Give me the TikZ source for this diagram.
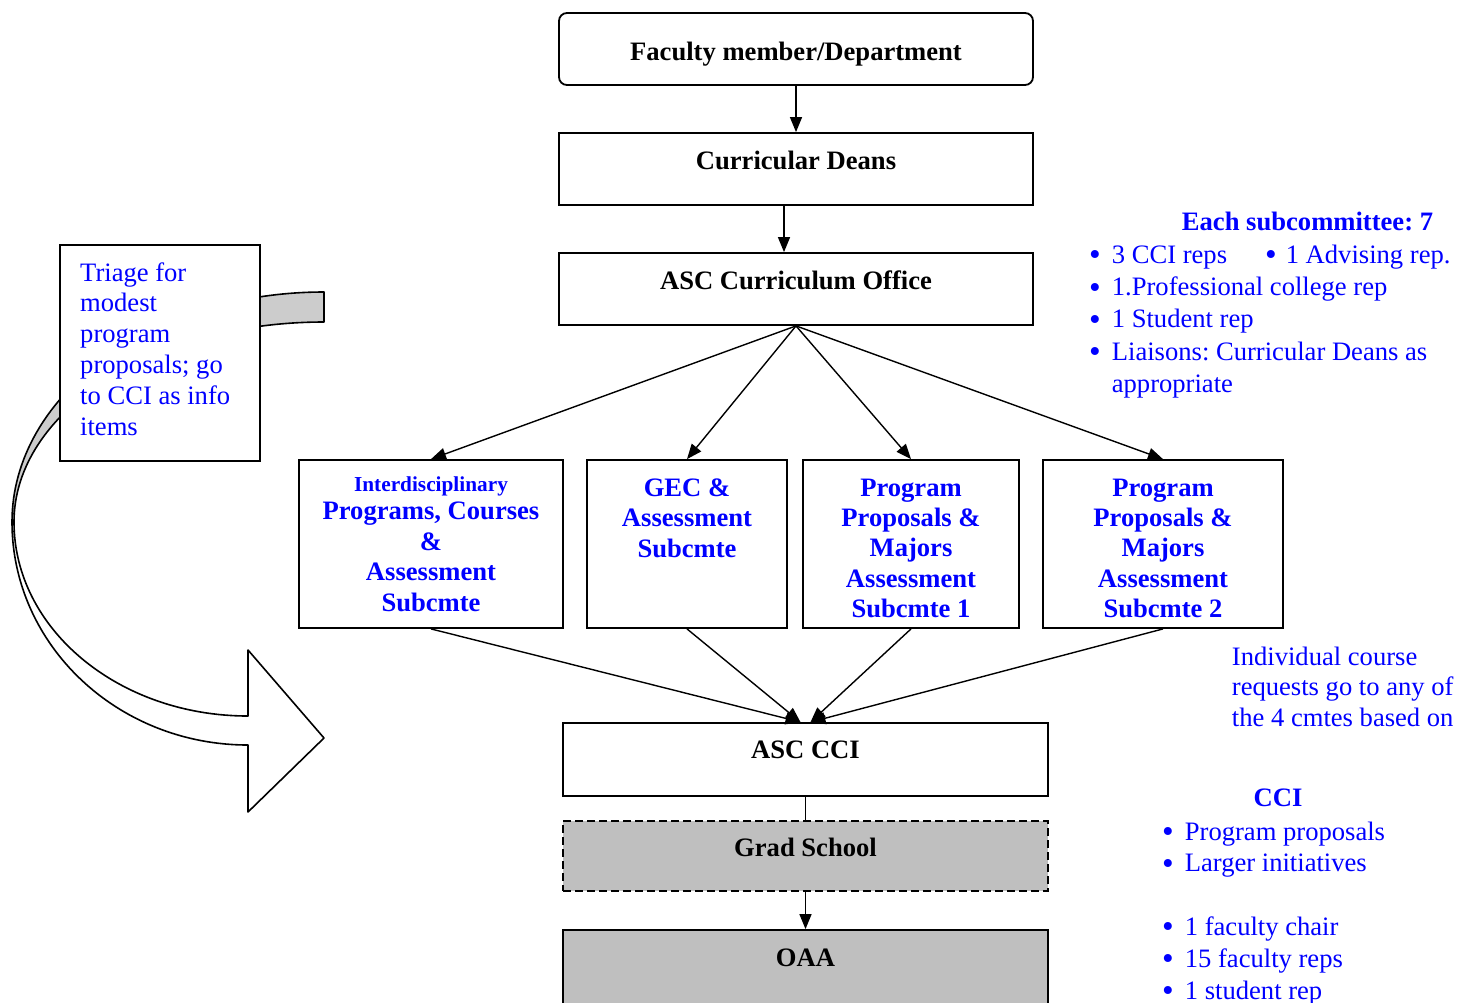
\documentclass[tikz,border=0pt]{standalone}
\usepackage{fontspec}
\setmainfont{Liberation Serif}
\usepackage{tikz}
\usetikzlibrary{arrows.meta}
\newcommand{\bigdot}{\raisebox{-2.5pt}{\scalebox{1.25}{\textbullet}}}
\frenchspacing

\begin{document}
\begin{tikzpicture}[
    x=1pt, y=-1pt,
    font=\fontsize{26.6}{32.3}\selectfont,
    >={Triangle[length=15pt,width=12pt]},
    box/.style={draw, line width=1.8pt, inner sep=0pt, minimum height=72pt, minimum width=474pt},
    subbox/.style={draw, line width=1.8pt, inner sep=0pt, minimum height=168pt, minimum width=#1},
    grey/.style={box, fill=black!25, minimum width=485pt},
    boxtitle/.style={anchor=base, font=\fontsize{26.6}{32.3}\selectfont\bfseries},
    subtitle/.style={anchor=base, text=blue, inner sep=0pt, font=\fontsize{26.6}{30.2}\selectfont\bfseries},
    note/.style={anchor=base west, text=blue, inner sep=0pt},
    notehead/.style={anchor=base, text=blue, inner sep=0pt, font=\fontsize{26.6}{32.3}\selectfont\bfseries},
    arrow/.style={->, line width=1.4pt},
    flow/.style={line width=1.4pt},
    band/.style={draw, line width=1.6pt, line join=round}
  ]
    \useasboundingbox (0,0) rectangle (1458,1002);

    % main chain
    \node[box, rounded corners=8pt] (faculty) at (796,49) {};
    \node[boxtitle] (facultytext) at (796,60.5) {Faculty member/Department};
    \node[box] (deans) at (796,169) {};
    \node[boxtitle] (deanstext) at (796,169.5) {Curricular Deans};
    \node[box] (ascoffice) at (796,289) {};
    \node[boxtitle] (ascofficetext) at (796,289.5) {ASC Curriculum Office};

    % subcommittees
    \node[subbox=264pt] (sub1) at (431,544) {};
    \node[subbox=200pt] (sub2) at (687,544) {};
    \node[subbox=216pt] (sub3) at (911,544) {};
    \node[subbox=240pt] (sub4) at (1163,544) {};
    \node[subtitle, font=\fontsize{26.6}{30.6}\selectfont\bfseries] (sub1text) at (431,491) {\begin{tabular}[t]{@{}c@{}}{\fontsize{21.3}{26}\selectfont Interdisciplinary}\\[-2pt] Programs, Courses\\ \&\\ Assessment\\ Subcmte\end{tabular}};
    \node[subtitle] (sub2text) at (687,496.7) {\begin{tabular}[t]{@{}c@{}}GEC \&\\ Assessment\\ Subcmte\end{tabular}};
    \node[subtitle] (sub3text) at (911,496.5) {\begin{tabular}[t]{@{}c@{}}Program\\ Proposals \&\\ Majors\\ Assessment\\ Subcmte 1\end{tabular}};
    \node[subtitle] (sub4text) at (1163,496.5) {\begin{tabular}[t]{@{}c@{}}Program\\ Proposals \&\\ Majors\\ Assessment\\ Subcmte 2\end{tabular}};

    \node[box, minimum width=485pt, minimum height=73pt] (cci) at (805.5,759.5) {};
    \node[boxtitle] (ccitext) at (805.5,758.3) {ASC CCI};
    \node[grey, dash pattern=on 8pt off 4pt, minimum height=70pt] (grad) at (805.5,856) {};
    \node[boxtitle] (gradtext) at (805.5,856) {Grad School};
    \node[grey, minimum height=80pt] (oaa) at (805.5,970) {};
    \node[boxtitle] (oaatext) at (805.5,966) {OAA};

    \draw[arrow] (faculty.south) -- (deans.north);
    \draw[arrow] ([xshift=-12pt]deans.south) -- ([xshift=-12pt]ascoffice.north);
    \foreach \n in {sub1,sub2,sub3,sub4} {
      \draw[arrow] (ascoffice.south) -- (\n.north);
    }
    \draw[arrow] (sub1.south) -- ([xshift=-5pt]cci.north);
    \draw[arrow] (sub2.south) -- ([xshift=-5pt]cci.north);
    \draw[arrow] (sub3.south) -- ([xshift=5pt]cci.north);
    \draw[arrow] (sub4.south) -- ([xshift=5pt]cci.north);
    \draw[flow] (cci.south) -- (grad.north);
    \draw[arrow] (grad.south) -- (oaa.north);

    % triage bypass arrow, back of the band first
    \draw[band, fill=black!20] (324,292) arc[start angle=270, end angle=180, x radius=312, y radius=230]
      -- (14,522) arc[start angle=180, end angle=270, x radius=310, y radius=200] -- cycle;
    \node[draw, line width=1.8pt, fill=white, minimum width=200pt, minimum height=216pt] (triage) at (160,353) {};
    \node[note, font=\fontsize{26.6}{30.8}\selectfont] (triagetext) at (80,281) {\begin{tabular}[t]{@{}l@{}}Triage for\\ modest\\ program\\ proposals; go\\ to CCI as info\\ items\end{tabular}};
    \draw[band, fill=white] (12,522) arc[start angle=180, end angle=90, x radius=236, y radius=223]
      -- (248,812) -- (324,738) -- (248,650) -- (248,716)
      arc[start angle=90, end angle=180, x radius=234, y radius=194] -- cycle;

    % notes on the right
    \node[notehead] (subhead) at (1307.5,230.7) {Each subcommittee: 7};
    \node[note] (sublist) at (1089,263.3) {\begin{tabular}[t]{@{}l@{\hspace{11pt}}l@{}}
      \bigdot & 3 CCI reps\hspace{38pt}\bigdot\hspace{9pt}1 Advising rep.\\
      \bigdot & 1.Professional college rep\\
      \bigdot & 1 Student rep\\
      \bigdot & Liaisons: Curricular Deans as\\
              & appropriate
    \end{tabular}};
    \node[note, font=\fontsize{26.6}{30.7}\selectfont] (coursenote) at (1231.7,665) {\begin{tabular}[t]{@{}l@{}}Individual course\\ requests go to any of\\ the 4 cmtes based on\end{tabular}};
    \node[notehead] (ccihead) at (1278,806.7) {CCI};
    \node[note, font=\fontsize{26.6}{31.8}\selectfont] (ccilist) at (1162,840) {\begin{tabular}[t]{@{}l@{\hspace{11pt}}l@{}}
      \bigdot & Program proposals\\
      \bigdot & Larger initiatives\\
              & \\
      \bigdot & 1 faculty chair\\
      \bigdot & 15 faculty reps\\
      \bigdot & 1 student rep
    \end{tabular}};
  \end{tikzpicture}
\end{document}
